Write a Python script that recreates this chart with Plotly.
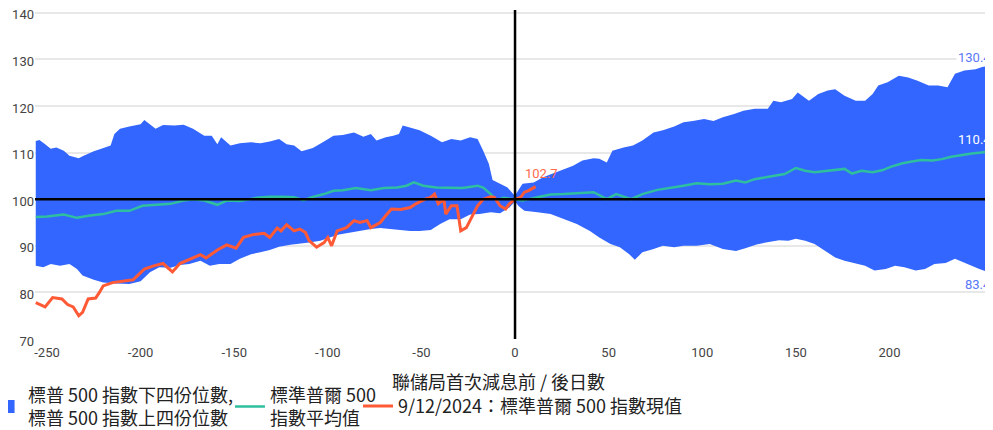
import plotly.graph_objects as go

# ---- data ----
upper_days = [-256, -254, -251, -248, -245, -241, -238, -233, -231, -225, -221, -216, -214, -211, -206, -200, -198,
              -192, -188, -182, -177, -172, -166, -162, -159, -157, -152, -147, -141, -136, -131, -126, -122, -118,
              -114, -108, -102, -97, -92, -86, -81, -77, -74, -69, -65, -62, -60, -56, -51, -45, -39, -34, -29, -24,
              -20, -17, -14, -12, -8, -4, -1, 0, 4, 10, 15, 20, 26, 31, 36, 42, 45, 49, 52, 58, 63, 68, 74, 79, 85,
              90, 95, 101, 106, 111, 117, 122, 128, 135, 138, 142, 148, 151, 157, 162, 167, 171, 176, 182, 187, 191,
              194, 199, 205, 210, 215, 221, 226, 231, 235, 240, 246, 251, 254, 256]
upper_vals = [112.5, 112.7, 111.8, 110.8, 111.1, 110.4, 109.3, 108.8, 109.2, 110.3, 110.8, 111.5, 114.0, 115.1, 115.6,
              116.1, 117.0, 115.1, 115.9, 115.8, 116.0, 115.1, 113.6, 113.6, 111.8, 113.3, 111.5, 112.0, 112.2, 112.0,
              112.4, 112.9, 111.8, 111.5, 110.3, 111.0, 112.4, 113.6, 113.8, 114.3, 113.4, 114.0, 112.6, 113.3, 113.6,
              114.0, 115.8, 115.4, 114.8, 113.6, 112.2, 112.9, 112.6, 113.3, 112.9, 110.4, 107.6, 104.1, 103.3, 102.5,
              101.1, 100.8, 103.3, 103.6, 104.7, 105.5, 106.5, 107.2, 108.3, 108.8, 108.7, 107.9, 110.4, 111.1, 111.5,
              112.6, 114.3, 114.8, 115.6, 116.5, 116.8, 117.2, 116.8, 117.6, 118.3, 119.0, 119.4, 119.4, 121.1, 120.8,
              121.5, 122.9, 121.1, 122.6, 123.3, 123.6, 122.2, 121.1, 121.1, 122.6, 124.4, 125.1, 126.5, 126.1, 125.4,
              124.4, 124.4, 124.0, 126.9, 127.6, 127.9, 128.6, 129.4, 130.4]

lower_days = [-256, -252, -248, -243, -238, -234, -231, -225, -220, -213, -206, -200, -195, -190, -184, -179, -174,
              -168, -163, -158, -152, -147, -141, -136, -131, -126, -120, -115, -110, -104, -99, -94, -88, -83, -77,
              -72, -67, -61, -56, -51, -45, -40, -35, -29, -24, -19, -13, -8, -3, 0, 2, 5, 12, 19, 26, 33, 40, 45,
              51, 56, 61, 64, 68, 74, 79, 85, 90, 97, 104, 111, 118, 123, 129, 134, 141, 146, 150, 155, 160, 166,
              171, 176, 182, 187, 192, 198, 203, 208, 214, 219, 224, 230, 235, 240, 248, 253, 256]
lower_vals = [85.7, 85.4, 86.1, 85.7, 86.1, 85.0, 83.6, 82.7, 82.1, 81.9, 81.8, 82.4, 84.3, 85.4, 85.3, 85.9, 86.1,
              86.8, 85.7, 86.1, 86.1, 87.2, 88.2, 88.6, 89.1, 89.8, 90.2, 90.5, 90.7, 91.1, 91.8, 92.4, 92.9, 93.2,
              93.6, 93.8, 93.6, 93.4, 93.2, 93.2, 93.4, 94.7, 95.7, 95.7, 96.7, 96.8, 97.2, 97.0, 98.2, 99.5, 98.5,
              97.5, 97.2, 96.8, 95.7, 94.7, 93.2, 91.8, 90.4, 89.7, 88.2, 87.0, 88.6, 89.3, 90.0, 89.7, 90.0, 90.0,
              90.4, 89.3, 88.9, 89.5, 90.3, 90.7, 91.2, 91.1, 91.5, 91.1, 90.4, 88.9, 87.5, 86.8, 86.2, 85.7, 84.7,
              85.0, 85.7, 85.4, 84.7, 85.0, 86.1, 86.3, 87.2, 86.4, 85.0, 84.3, 83.4]

mean_days = [-256, -250, -241, -234, -227, -220, -213, -206, -199, -191, -184, -177, -172, -166, -159, -154, -147,
             -138, -131, -124, -118, -113, -108, -102, -97, -92, -85, -77, -70, -63, -58, -54, -49, -42, -35, -28,
             -20, -17, -13, -10, -6, -3, 0, 4, 12, 19, 26, 33, 42, 49, 54, 62, 68, 76, 83, 90, 97, 104, 111, 118,
             123, 128, 134, 139, 144, 150, 155, 160, 166, 171, 176, 180, 185, 191, 196, 201, 207, 212, 217, 223,
             228, 233, 239, 244, 249, 256]
mean_vals = [96.2, 96.3, 96.7, 96.0, 96.5, 96.8, 97.5, 97.5, 98.6, 98.8, 99.0, 99.7, 100.0, 99.7, 98.8, 99.7, 99.6,
             100.3, 100.5, 100.5, 100.4, 99.8, 100.5, 101.1, 101.8, 101.9, 102.4, 101.9, 102.4, 102.5, 102.9, 103.6,
             102.9, 102.5, 102.5, 102.4, 102.9, 102.5, 101.1, 99.8, 100.3, 100.1, 100.0, 99.7, 100.4, 101.0, 101.1,
             101.3, 101.5, 100.0, 101.1, 100.0, 101.1, 102.0, 102.4, 102.9, 103.4, 103.2, 103.3, 104.0, 103.6, 104.3,
             104.7, 105.0, 105.4, 106.7, 106.1, 105.8, 106.1, 106.2, 106.5, 105.5, 106.1, 105.8, 106.2, 107.0, 107.7,
             108.1, 108.4, 108.3, 108.6, 109.1, 109.5, 109.8, 110.0, 110.4]

current_days = [-256, -251, -247, -242, -239, -236, -233, -231, -228, -224, -222, -220, -215, -210, -204, -198, -193,
                -188, -183, -179, -174, -168, -165, -159, -154, -149, -145, -140, -134, -131, -127, -125, -122, -118,
                -115, -112, -110, -106, -102, -100, -98, -95, -90, -86, -83, -79, -77, -72, -69, -66, -61, -56, -53,
                -48, -45, -43, -41, -38, -37, -34, -31, -29, -26, -23, -20, -17, -13, -11, -8, -5, -3, 0, 3, 5, 7, 11]
current_vals = [77.8, 76.9, 78.9, 78.6, 77.4, 76.9, 75.0, 75.7, 78.6, 78.8, 80.0, 81.4, 82.1, 82.4, 82.7, 85.0, 85.7,
                86.2, 84.4, 86.2, 87.0, 88.1, 87.4, 89.1, 90.2, 89.5, 91.8, 92.4, 92.7, 91.8, 93.8, 93.2, 94.5, 93.2,
                93.6, 92.9, 91.1, 89.7, 90.7, 91.8, 90.0, 93.2, 93.9, 95.4, 95.0, 95.4, 93.9, 95.0, 96.5, 97.9, 97.8,
                98.2, 99.0, 100.0, 100.4, 101.1, 99.0, 100.0, 96.8, 98.6, 98.6, 93.2, 93.9, 96.1, 98.6, 100.0, 100.5,
                100.4, 98.6, 97.9, 99.0, 100.0, 100.4, 101.5, 101.8, 102.7]

y_ticks = [70, 80, 90, 100, 110, 120, 130, 140]
x_ticks = [-250, -200, -150, -100, -50, 0, 50, 100, 150, 200, 250]
x_tick_labels = [str(v) for v in x_ticks]

names = ["標普 500 指數下四份位數,<br>標普 500 指數上四份位數",
         "標準普爾 500<br>指數平均值",
         "9/12/2024：標準普爾 500 指數現值"]
x_title = "聯儲局首次減息前 / 後日數"

BLUE = "#3366FF"
TEAL = "#2FBF9F"
ORANGE = "#FF5A36"
FONT = "Noto Sans CJK TC, Noto Sans, sans-serif"

fig = go.Figure()

# quartile band (polygon built from the two arrays)
fig.add_trace(go.Scatter(
    x=upper_days + lower_days[::-1], y=upper_vals + lower_vals[::-1],
    fill="toself", fillcolor=BLUE, mode="lines", line=dict(width=0, color=BLUE),
    showlegend=False, hoverinfo="skip"))
# legend entry for the band
fig.add_trace(go.Scatter(
    x=[None], y=[None], mode="markers", name=names[0], legend="legend",
    marker=dict(symbol="square", size=13, color=BLUE)))

fig.add_trace(go.Scatter(x=mean_days, y=mean_vals, mode="lines", name=names[1], legend="legend2",
                         line=dict(color=TEAL, width=2.5)))
fig.add_trace(go.Scatter(x=current_days, y=current_vals, mode="lines", name=names[2], legend="legend3",
                         line=dict(color=ORANGE, width=3)))

# reference lines
fig.add_shape(type="line", xref="paper", yref="y", x0=0, x1=1, y0=100, y1=100,
              line=dict(color="black", width=2.5))
fig.add_shape(type="line", xref="x", yref="paper", x0=0, x1=0, y0=0, y1=1,
              line=dict(color="black", width=2.5))

# end labels
fig.add_annotation(xref="paper", x=1, y=upper_vals[-1], text=f"{upper_vals[-1]:.1f}", showarrow=False,
                   xanchor="right", yanchor="middle", bgcolor="white",
                   font=dict(family="Roboto", size=13, color="#5A78F7"))
fig.add_annotation(xref="paper", x=1, y=lower_vals[-1], text=f"{lower_vals[-1]:.1f}", showarrow=False,
                   xanchor="right", yanchor="top", yshift=2,
                   font=dict(family="Roboto", size=13, color="#5A78F7"))
fig.add_annotation(xref="paper", x=1, y=mean_vals[-1], text=f"{mean_vals[-1]:.1f}", showarrow=False,
                   xanchor="right", yanchor="bottom", yshift=2,
                   font=dict(family="Roboto", size=13, color="white"))
fig.add_annotation(x=current_days[-1], y=current_vals[-1], text=f"{current_vals[-1]:.1f}", showarrow=False,
                   xanchor="center", yanchor="bottom", xshift=6, yshift=4,
                   font=dict(family="Roboto", size=13, color="#FF6A4D"))

# x-axis title
fig.add_annotation(xref="paper", yref="paper", x=0.484, y=-0.129, text=x_title, showarrow=False,
                   xanchor="center", yanchor="middle",
                   font=dict(family=FONT, size=18, color="#222"))

legend_common = dict(orientation="h", xanchor="left", yanchor="top",
                     font=dict(size=18, color="#222"), itemwidth=30, tracegroupgap=0,
                     bgcolor="rgba(0,0,0,0)")

# the page body adds an 8px margin, so the figure is 8px smaller than the window
fig.update_layout(
    width=985, height=422,
    margin=dict(l=27, r=0, t=2, b=91, autoexpand=False),
    paper_bgcolor="white", plot_bgcolor="white",
    font=dict(family=FONT, size=17, color="#222"),
    showlegend=True,
    legend=dict(x=-0.049, y=-0.114, **legend_common),
    legend2=dict(x=0.2035, y=-0.114, **legend_common),
    legend3=dict(x=0.3372, y=-0.148, **legend_common),
    xaxis=dict(range=[-256.4, 255.3], tickvals=x_ticks, ticktext=x_tick_labels, showgrid=False,
               zeroline=False, showline=False, ticks="", ticklabelstandoff=4,
               tickfont=dict(family="Roboto", size=13, color="#444")),
    yaxis=dict(range=[70, 140.6], tickvals=y_ticks, showgrid=True, gridcolor="#E8E8E8", gridwidth=1.5,
               zeroline=False, showline=False, ticks="", ticklabeloverflow="allow", ticklabelshift=2,
               tickfont=dict(family="Roboto", size=13, color="#444")),
)

fig.write_html("out.html")
